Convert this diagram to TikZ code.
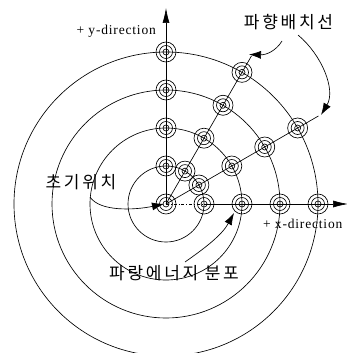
\documentclass[tikz,border=0pt]{standalone}
\usepackage{fontspec}
\setmainfont{Liberation Serif}
\newfontfamily\kr[LetterSpace=16]{Noto Sans CJK KR}
\newfontfamily\lat[LetterSpace=6]{Liberation Serif}
\usetikzlibrary{arrows.meta,calc}
\tikzset{
  thin line/.style={line width=0.65pt},
  tgt/.style={circle, draw, thin line, minimum size=20pt, inner sep=0pt,
    path picture={\draw[thin line] (path picture bounding box.center) circle[radius=6.5pt]
      (path picture bounding box.center) circle[radius=3pt];}},
  callout/.style={thin line, -{Latex[length=12pt,width=8pt]}},
  axisarrow/.style={thin line, -{Latex[length=15pt,width=7pt]}},
  krlabel/.style={font=\kr\fontsize{17pt}{19pt}\selectfont, inner sep=0pt},
  latlabel/.style={font=\lat\fontsize{13.5pt}{15pt}\selectfont, inner sep=0pt}
}
\begin{document}
\begin{tikzpicture}[x=1pt,y=-1pt]
\useasboundingbox (0,0) rectangle (347,353);
\coordinate (O) at (166,204);
% energy circles
\foreach \r in {38,76,114,152}{
  \draw[thin line] (O) circle[radius=\r pt];
}
% end coordinates
\coordinate (yend) at (166,8);
\coordinate (xend) at (348,204);
\coordinate (aend) at ({166+171*cos(60)},{204-171*sin(60)});
\coordinate (bend) at ({166+176*cos(30)},{204-176*sin(30)});
% nodes
\node[tgt] (o) at (O) {};
\foreach \i/\r in {1/38,2/76,3/114,4/152}{
  \node[tgt] (y\i) at ({166},{204-\r}) {};
  \node[tgt] (x\i) at ({166+\r},{204}) {};
  \node[tgt] (a\i) at ({166+\r*cos(60)},{204-\r*sin(60)}) {};
  \node[tgt] (b\i) at ({166+\r*cos(30)},{204-\r*sin(30)}) {};
}
% axes and wave-direction lines
\draw[axisarrow] (o.center) -- (yend);
\draw[thin line, dash dot] (o.center) -- (x1.center);
\draw[axisarrow] (x1.center) -- (xend);
\draw[thin line] (o.center) -- (aend);
\draw[thin line] (o.center) -- (bend);
% labels
\node[latlabel, anchor=base east] (ylab) at (156,34.5) {+ y-direction};
\node[latlabel, anchor=base west] (xlab) at (263,228) {+ x-direction};
\node[krlabel] (lines) at (288.5,22.5) {파향배치선};
\node[krlabel] (init) at (81,182) {초기위치};
\node[krlabel] (energy) at (174,273.5) {파랑에너지 분포};
% callout arrows
\coordinate (l1s) at (282,41);
\coordinate (l2s) at (298,35);
\coordinate (is) at (90,197);
\coordinate (es) at (185,262);
\draw[callout] (l1s) .. controls (276,51) and (266,55) .. (249,54.5);
\draw[callout] (l2s) .. controls (322,55) and (336,90) .. (321,115);
\draw[callout] (is) .. controls (100,212) and (135,210) .. (164,204);
\draw[callout] (es) .. controls (205,248) and (222,235) .. (234,213);
\end{tikzpicture}
\end{document}
